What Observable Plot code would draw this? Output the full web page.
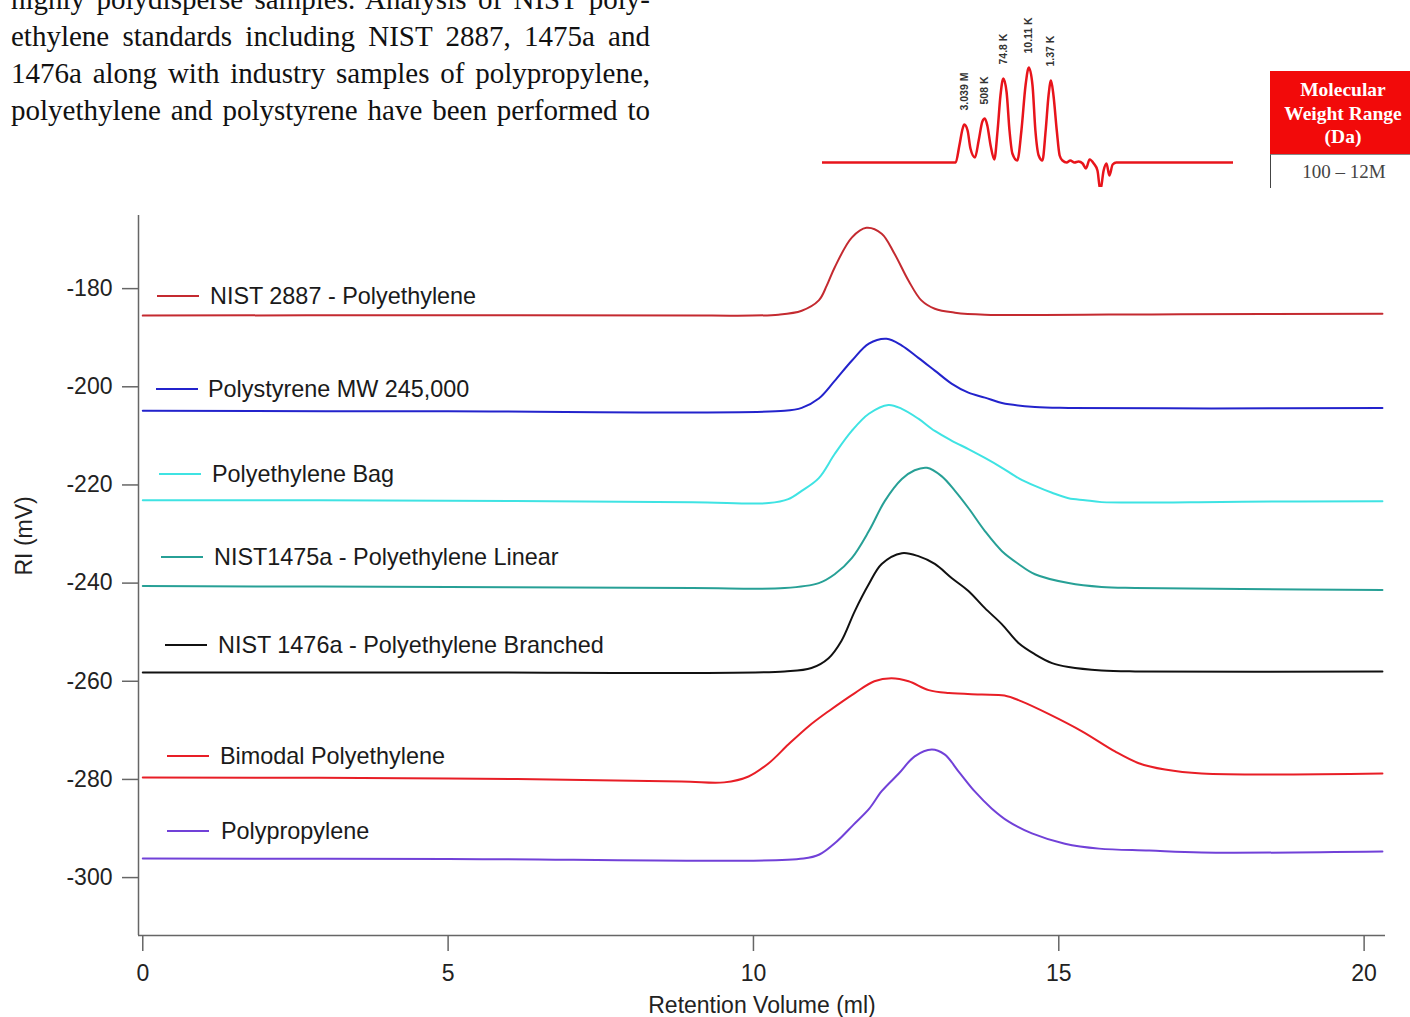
<!DOCTYPE html>
<html><head><meta charset="utf-8">
<script src="https://cdn.jsdelivr.net/npm/d3@7"></script>
<script src="https://cdn.jsdelivr.net/npm/@observablehq/plot@0.6"></script>
<style>
html,body{margin:0;padding:0;background:#fff;}
#page{position:relative;width:1410px;height:1017px;overflow:hidden;background:#fff;}
#para{position:absolute;left:11px;top:-19px;width:639px;font-family:"Liberation Serif","Times New Roman",serif;font-size:29px;line-height:37px;color:#111;}
#para div{text-align:justify;text-align-last:justify;}
#main{position:absolute;left:0;top:0;}
#inset{position:absolute;left:822px;top:0;}
#boxHead{position:absolute;left:1270px;top:71px;width:146px;height:76px;padding-top:7px;background:#f20a0a;color:#fff;font-family:"Liberation Serif","Times New Roman",serif;font-weight:bold;font-size:19.5px;line-height:23.5px;text-align:center;}
#boxCell{position:absolute;left:1270px;top:154px;width:146px;height:33px;border-left:1.5px solid #444;border-top:1px solid #888;font-family:"Liberation Serif","Times New Roman",serif;font-size:19px;color:#444;text-align:center;line-height:34px;overflow:hidden;}
.legLine{position:absolute;width:42px;height:2px;}
.legText{position:absolute;font-family:"Liberation Sans",Arial,sans-serif;font-size:23.4px;line-height:28px;color:#1a1a1a;white-space:nowrap;}
</style>
</head>
<body>
<div id="page">
  <div id="para"></div>
  <div id="inset"></div>
  <div id="boxHead"></div>
  <div id="boxCell"></div>
  <div id="main"></div>
</div>
<script>
// ---------- Text content ----------
const paragraphLines = [
  "highly polydisperse samples. Analysis of NIST poly-",
  "ethylene standards including NIST 2887, 1475a and",
  "1476a along with industry samples of polypropylene,",
  "polyethylene and polystyrene have been performed to"
];
const boxHeader = ["Molecular", "Weight Range", "(Da)"];
const boxValue = "100 – 12M";

// ---------- Inset chromatogram (arbitrary units) ----------
const insetU = [0, 32.4, 33.3, 34.1, 34.5, 35.3, 36.0, 37.1, 38.0, 38.9, 39.5, 40.1, 40.9, 41.8, 42.6, 43.3, 44.0, 44.8, 45.5, 46.2, 47.4, 48.4, 49.4, 50.2, 51.1, 51.8, 52.6, 53.5, 54.3, 55.0, 55.6, 56.2, 57.0, 57.7, 58.4, 59.4, 60.3, 61.3, 62.3, 63.3, 64.1, 65.0, 66.0, 66.9, 67.6, 68.4, 69.1, 69.8, 70.6, 71.5, 100];
const insetSignal = [0, 0, 17, 34, 38, 32, 14, 5, 22, 41, 44, 37, 17, 3, 32, 67, 84, 70, 32, 9, 2, 32, 77, 95, 77, 32, 7, 2, 32, 67, 82, 67, 32, 7, 2, 0, 2, 0, 1, -1, -6, 3, -1, -8, -28, -8, -1, -13, -2, 0, 0];
const peakLabels = ["3.039 M", "508 K", "74.8 K", "10.11 K", "1.37 K"];
const peakU = [34.5, 39.5, 44.0, 50.2, 55.6];
const peakSignal = [38, 44, 84, 95, 82];

// ---------- Main chart ----------
const xTicks = [0, 5, 10, 15, 20];
const yTicks = [-300, -280, -260, -240, -220, -200, -180];
const seriesNames = [
  "NIST 2887 - Polyethylene",
  "Polystyrene MW 245,000",
  "Polyethylene Bag",
  "NIST1475a - Polyethylene Linear",
  "NIST 1476a - Polyethylene Branched",
  "Bimodal Polyethylene",
  "Polypropylene"
];
const seriesColors = ["#c42a30", "#2323cc", "#3fe3e3", "#27a096", "#111111", "#e81e26", "#7141d8"];

const x2887 = [0, 4.5, 9.15, 10.41, 10.79, 11.07, 11.2, 11.33, 11.61, 11.85, 12.10, 12.31, 12.54, 12.75, 12.97, 13.30, 13.79, 17.0, 20.3];
const y2887 = [-185.5, -185.4, -185.5, -185.3, -184.5, -182.4, -179.4, -175.7, -169.6, -167.6, -168.8, -172.9, -178.4, -182.4, -184.1, -184.9, -185.3, -185.2, -185.1];

const xPS = [0, 5, 10.51, 10.79, 11.07, 11.33, 11.61, 11.89, 12.18, 12.43, 12.70, 12.97, 13.25, 13.52, 13.79, 14.07, 14.61, 15.16, 17.5, 20.3];
const yPS = [-204.9, -205.0, -204.9, -204.3, -202.4, -198.8, -194.7, -191.2, -190.2, -191.6, -194.1, -196.7, -199.4, -201.2, -202.2, -203.3, -204.1, -204.3, -204.4, -204.3];

const xBag = [0, 5, 9.0, 10.25, 10.57, 10.79, 11.07, 11.33, 11.61, 11.89, 12.21, 12.43, 12.70, 12.97, 13.25, 13.52, 13.79, 14.07, 14.34, 14.61, 14.89, 15.16, 15.43, 15.70, 18, 20.3];
const yBag = [-223.1, -223.2, -223.5, -223.7, -222.9, -221.2, -218.6, -213.7, -209.0, -205.5, -203.7, -204.5, -206.5, -209.0, -211.0, -212.7, -214.5, -216.5, -218.6, -220.2, -221.6, -222.7, -223.1, -223.5, -223.4, -223.3];

const x1475 = [0, 5, 9.0, 10.51, 11.07, 11.33, 11.61, 11.89, 12.15, 12.43, 12.64, 12.84, 13.08, 13.30, 13.52, 13.79, 14.07, 14.34, 14.61, 15.16, 15.70, 16.25, 18, 20.3];
const y1475 = [-240.6, -240.8, -241.0, -241.0, -240.0, -238.2, -234.9, -229.4, -223.3, -218.8, -217.0, -216.5, -218.2, -221.2, -224.7, -229.4, -233.5, -236.1, -238.2, -240.0, -240.8, -241.0, -241.2, -241.4];

const x1476 = [0, 5, 10.51, 10.95, 11.23, 11.44, 11.66, 11.89, 12.10, 12.43, 12.70, 12.97, 13.25, 13.52, 13.79, 14.07, 14.34, 14.61, 14.89, 15.16, 15.70, 16.25, 20.3];
const y1476 = [-258.2, -258.2, -258.0, -257.3, -255.3, -251.8, -245.7, -240.2, -236.1, -233.9, -234.5, -236.1, -239.0, -241.6, -245.1, -248.4, -252.2, -254.5, -256.3, -257.1, -257.8, -258.0, -258.0];

const xBimodal = [0, 5, 8.82, 9.52, 9.92, 10.25, 10.57, 10.90, 11.23, 11.66, 11.98, 12.26, 12.54, 12.87, 13.20, 13.74, 14.11, 14.39, 14.84, 15.38, 15.92, 16.31, 16.74, 17.34, 20.3];
const yBimodal = [-279.6, -279.8, -280.4, -280.6, -279.4, -276.7, -272.9, -269.2, -266.1, -262.4, -260.0, -259.4, -260.0, -261.8, -262.4, -262.7, -262.9, -264.1, -266.7, -270.2, -274.3, -276.7, -278.0, -278.8, -278.8];

const xPP = [0, 5, 10.82, 11.08, 11.36, 11.64, 11.90, 12.10, 12.38, 12.64, 12.92, 13.13, 13.36, 13.62, 13.90, 14.18, 14.56, 15.10, 15.66, 16.48, 17.34, 20.3];
const yPP = [-296.1, -296.2, -296.1, -295.3, -292.7, -289.2, -285.9, -282.4, -278.8, -275.3, -273.9, -274.9, -278.4, -282.4, -285.9, -288.6, -291.0, -293.1, -294.1, -294.5, -294.9, -294.7];

// ---------- Layout (pixels) ----------
const legendLayout = [
  {x: 157, y: 296, tx: 210}, {x: 156, y: 389, tx: 208}, {x: 159, y: 474, tx: 212},
  {x: 161, y: 557, tx: 214}, {x: 165, y: 645, tx: 218}, {x: 167, y: 756, tx: 220},
  {x: 167, y: 831, tx: 221}
];
const xDomain = [-0.07, 20.35];
const yDomain = [-311.8, -165.1];

// ---------- Build ----------
const para = document.getElementById("para");
paragraphLines.forEach(t => { const d = document.createElement("div"); d.textContent = t; para.appendChild(d); });
document.getElementById("boxHead").innerHTML = boxHeader.map(s => `<div>${s}</div>`).join("");
document.getElementById("boxCell").textContent = boxValue;

const xsAll = [x2887, xPS, xBag, x1475, x1476, xBimodal, xPP];
const ysAll = [y2887, yPS, yBag, y1475, y1476, yBimodal, yPP];
const rows = [];
seriesNames.forEach((name, i) => xsAll[i].forEach((x, j) => rows.push({series: name, x, y: ysAll[i][j]})));

const insetRows = insetU.map((u, i) => ({u, s: insetSignal[i]}));
const peakRows = peakLabels.map((t, i) => ({t, u: peakU[i], s: peakSignal[i]}));

const inset = Plot.plot({
  width: 411, height: 187, margin: 0,
  x: {domain: [0, 100], axis: null},
  y: {domain: [-25, 162], axis: null},
  style: {background: "transparent", overflow: "visible"},
  marks: [
    Plot.line(insetRows, {x: "u", y: "s", stroke: "#e8141b", strokeWidth: 2.5, curve: "monotone-x", clip: true}),
    Plot.text(peakRows, {x: "u", y: "s", text: "t", rotate: -90, textAnchor: "start", dy: -14,
      fontSize: 10.5, fontWeight: "bold", fill: "#333", fontFamily: '"Liberation Sans", Arial, sans-serif'})
  ]
});
document.getElementById("inset").appendChild(inset);

const main = Plot.plot({
  width: 1410, height: 1017,
  marginLeft: 138, marginRight: 25, marginTop: 215, marginBottom: 82,
  x: {domain: xDomain},
  y: {domain: yDomain},
  color: {domain: seriesNames, range: seriesColors},
  style: {fontFamily: '"Liberation Sans", Arial, sans-serif', fontSize: "23px", background: "transparent", overflow: "visible"},
  marks: [
    Plot.ruleX([xDomain[0]], {stroke: "#666", strokeWidth: 1.5}),
    Plot.ruleY([yDomain[0]], {stroke: "#666", strokeWidth: 1.5}),
    Plot.axisY(yTicks, {tickSize: 16, tickPadding: 10, stroke: "#666", strokeWidth: 1.5, fill: "#222", tickFormat: d => String(d), label: null}),
    Plot.axisX(xTicks, {tickSize: 16, tickPadding: 13, stroke: "#666", strokeWidth: 1.5, fill: "#222", tickFormat: d => String(d), label: null}),
    Plot.text(["Retention Volume (ml)"], {frameAnchor: "bottom", dy: 70, lineAnchor: "middle", fill: "#222", fontSize: 23}),
    Plot.text(["RI (mV)"], {frameAnchor: "left", dx: -114, rotate: -90, lineAnchor: "middle", fill: "#222", fontSize: 23}),
    Plot.line(rows, {x: "x", y: "y", z: "series", stroke: "series", strokeWidth: 2, curve: "catmull-rom"})
  ]
});
document.getElementById("main").appendChild(main);

// legend
const page = document.getElementById("page");
seriesNames.forEach((name, i) => {
  const L = legendLayout[i];
  const ln = document.createElement("div");
  ln.className = "legLine";
  ln.style.left = L.x + "px"; ln.style.top = (L.y - 1) + "px"; ln.style.background = seriesColors[i];
  page.appendChild(ln);
  const tx = document.createElement("div");
  tx.className = "legText";
  tx.style.left = L.tx + "px"; tx.style.top = (L.y - 14) + "px";
  tx.textContent = name;
  page.appendChild(tx);
});
</script>
</body></html>
